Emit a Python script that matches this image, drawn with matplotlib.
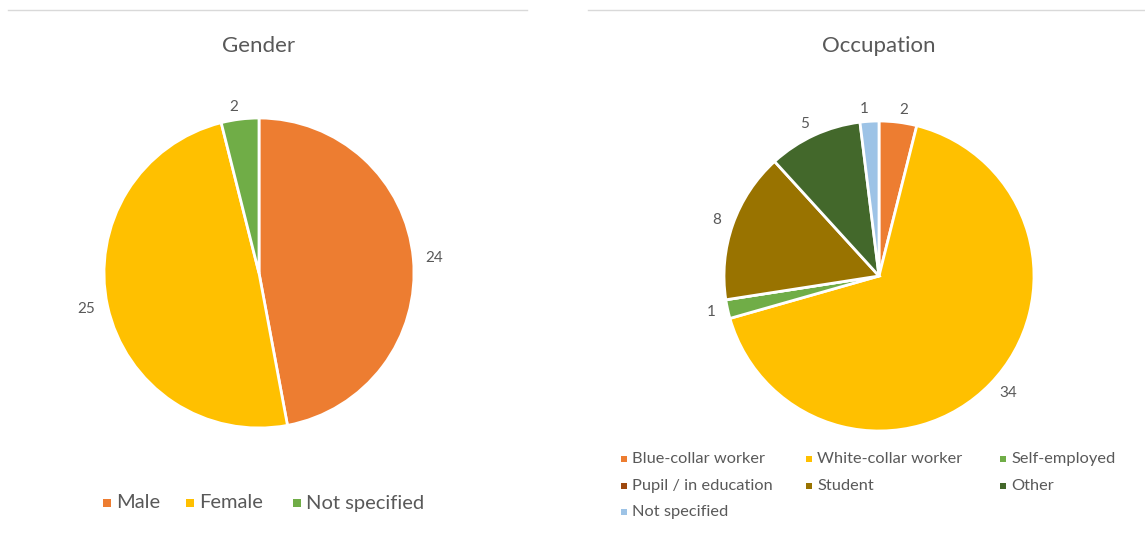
import matplotlib
matplotlib.use("Agg")
import matplotlib.pyplot as plt
from matplotlib.patches import Rectangle
from matplotlib.lines import Line2D

plt.rcParams['font.family'] = ['Lato', 'DejaVu Sans']

# Gender breakdown
gender_labels = ["Male", "Female", "Not specified"]
gender_values = [24, 25, 2]
gender_colors = ["#ED7D31", "#FFC000", "#70AD47"]

# Occupation breakdown
occ_labels = ["Blue-collar worker", "White-collar worker", "Self-employed",
              "Pupil / in education", "Student", "Other", "Not specified"]
occ_values = [2, 34, 1, 0, 8, 5, 1]
occ_colors = ["#ED7D31", "#FFC000", "#70AD47", "#9E480E", "#997300",
              "#43682B", "#9DC3E6"]

W, H = 1145, 534
TXT = "#595959"
fig = plt.figure(figsize=(W / 100, H / 100), dpi=100)


def pie_axes(cx, cy, r, span=1.3):
    half = r * span
    ax = fig.add_axes([(cx - half) / W, (H - cy - half) / H, 2 * half / W, 2 * half / H])
    ax.set_xlim(-span, span)
    ax.set_ylim(-span, span)
    ax.set_aspect("equal")
    ax.axis("off")
    return ax


def draw_pie(ax, values, colors, fontsize):
    ax.pie(values, colors=colors, startangle=90, counterclock=False,
           labels=[str(v) if v else "" for v in values], labeldistance=1.08,
           wedgeprops=dict(edgecolor="white", linewidth=2.0),
           textprops=dict(color=TXT, fontsize=fontsize))
    ax.set_xlim(-1.3, 1.3)
    ax.set_ylim(-1.3, 1.3)


ax1 = pie_axes(259, 273, 155)
draw_pie(ax1, gender_values, gender_colors, 11)
ax2 = pie_axes(879, 276, 155)
draw_pie(ax2, occ_values, occ_colors, 11)

# Panel separators
fig.add_artist(Line2D([8 / W, 527 / W], [1 - 10 / H] * 2, color="#D9D9D9", lw=1))
fig.add_artist(Line2D([588 / W, 1 - 1 / W], [1 - 10 / H] * 2, color="#D9D9D9", lw=1))

# Titles
fig.text(259 / W, 1 - 46 / H, "Gender", ha="center", va="center", fontsize=16, color=TXT)
fig.text(879 / W, 1 - 46 / H, "Occupation", ha="center", va="center", fontsize=16, color=TXT)


def legend_item(x, y, label, color, fs, sq):
    fig.add_artist(Rectangle(((x - sq / 2) / W, 1 - (y + sq / 2) / H), sq / W, sq / H,
                             facecolor=color, edgecolor="none"))
    fig.text((x + sq / 2 + 5) / W, 1 - y / H, label, ha="left", va="center",
             fontsize=fs, color=TXT)


# Gender legend
for x, lab, col in zip([107, 190, 297], gender_labels, gender_colors):
    legend_item(x, 503, lab, col, 14.5, 8)

# Occupation legend (3 columns)
col_x = [624, 809, 1003]
row_y = [459, 486, 512]
for i, (lab, col) in enumerate(zip(occ_labels, occ_colors)):
    legend_item(col_x[i % 3], row_y[i // 3], lab, col, 11.8, 6)

fig.savefig("out.png", dpi=100, facecolor="white")
